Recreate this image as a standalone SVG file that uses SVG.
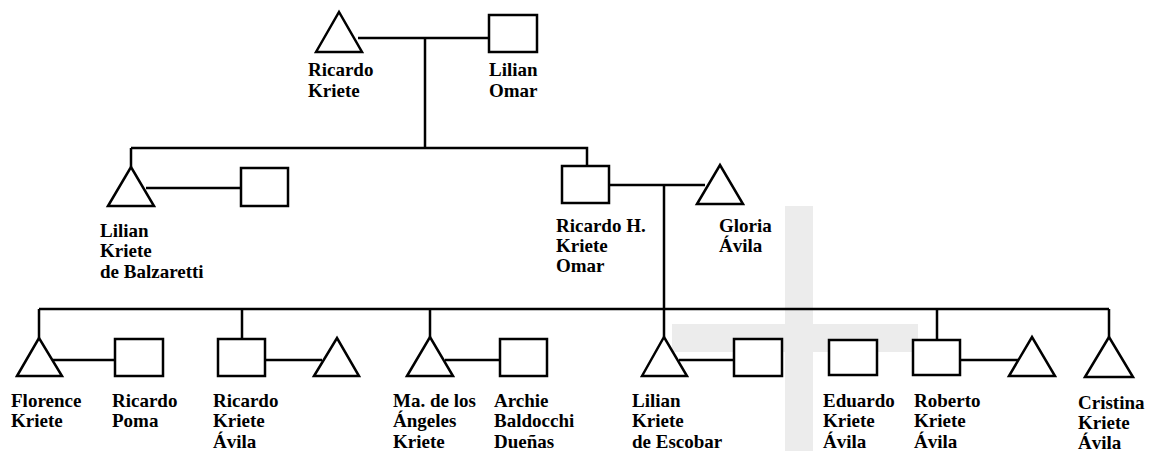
<svg xmlns="http://www.w3.org/2000/svg" width="1149" height="451" viewBox="0 0 1149 451">
<style>
.wm{fill:#ececec;stroke:none}
.sym{fill:#fff;stroke:#000;stroke-width:2.5;stroke-linejoin:miter}
.ln{fill:none;stroke:#000;stroke-width:2.5}
text{font-family:"Liberation Serif","Times New Roman",serif;font-size:19px;font-weight:bold;fill:#000}
</style>
<g id="watermark">
<rect class="wm" x="785" y="206" width="28" height="245"/>
<rect class="wm" x="672" y="324" width="246" height="28"/>
</g>
<g id="connectors">
<path class="ln" d="M358,38H489M425,38V148"/>
<path class="ln" d="M131,148H587V166M131,148V167"/>
<path class="ln" d="M146,188H241"/>
<path class="ln" d="M609,185H705M664,185V309"/>
<path class="ln" d="M39,309H1109M39,309V338M242,309V339M430,309V337M664,309V337M937,309V340M1109,309V337"/>
<path class="ln" d="M53,360H115M265,360H322M445,360H500M679,360H734M960,360H1018"/>
</g>
<g id="ricardo-kriete"><polygon class="sym" points="316,52 339,12 362,52"/><text x="308" y="76">Ricardo</text><text x="308" y="97">Kriete</text></g>
<g id="lilian-omar"><rect class="sym" x="489" y="15" width="48" height="37"/><text x="489" y="76">Lilian</text><text x="489" y="97">Omar</text></g>
<g id="lilian-kriete-balzaretti"><polygon class="sym" points="108,206 131,167 154,206"/><text x="100" y="237">Lilian</text><text x="100" y="257">Kriete</text><text x="100" y="278">de Balzaretti</text></g>
<g id="balzaretti-spouse"><rect class="sym" x="241" y="168" width="47" height="38"/></g>
<g id="ricardo-h-kriete-omar"><rect class="sym" x="562" y="166" width="47" height="37"/><text x="556" y="232">Ricardo H.</text><text x="556" y="252">Kriete</text><text x="556" y="272">Omar</text></g>
<g id="gloria-avila"><polygon class="sym" points="697,204 720,165 743,204"/><text x="719" y="232">Gloria</text><text x="719" y="252">Ávila</text></g>
<g id="florence-kriete"><polygon class="sym" points="17,376 39,338 62,376"/><text x="11" y="407">Florence</text><text x="11" y="427">Kriete</text></g>
<g id="ricardo-poma"><rect class="sym" x="115" y="339" width="48" height="37"/><text x="112" y="407">Ricardo</text><text x="112" y="427">Poma</text></g>
<g id="ricardo-kriete-avila"><rect class="sym" x="218" y="339" width="47" height="37"/><text x="213" y="407">Ricardo</text><text x="213" y="427">Kriete</text><text x="213" y="448">Ávila</text></g>
<g id="ricardo-kriete-avila-spouse"><polygon class="sym" points="314,376 337,338 359,376"/></g>
<g id="ma-angeles-kriete"><polygon class="sym" points="407,376 430,337 453,376"/><text x="393" y="407">Ma. de los</text><text x="393" y="427">Ángeles</text><text x="393" y="448">Kriete</text></g>
<g id="archie-baldocchi"><rect class="sym" x="500" y="339" width="47" height="37"/><text x="494" y="407">Archie</text><text x="494" y="427">Baldocchi</text><text x="494" y="448">Dueñas</text></g>
<g id="lilian-kriete-escobar"><polygon class="sym" points="642,376 664,337 687,376"/><text x="632" y="407">Lilian</text><text x="632" y="427">Kriete</text><text x="632" y="448">de Escobar</text></g>
<g id="escobar-spouse"><rect class="sym" x="734" y="339" width="48" height="37"/></g>
<g id="eduardo-kriete-avila"><rect class="sym" x="829" y="340" width="48" height="35"/><text x="823" y="407">Eduardo</text><text x="823" y="427">Kriete</text><text x="823" y="448">Ávila</text></g>
<g id="roberto-kriete-avila"><rect class="sym" x="913" y="340" width="47" height="35"/><text x="914" y="407">Roberto</text><text x="914" y="427">Kriete</text><text x="914" y="448">Ávila</text></g>
<g id="roberto-spouse"><polygon class="sym" points="1009,376 1032,337 1055,376"/></g>
<g id="cristina-kriete-avila"><polygon class="sym" points="1085,377 1109,337 1133,377"/><text x="1078" y="409">Cristina</text><text x="1078" y="429">Kriete</text><text x="1078" y="449">Ávila</text></g>
</svg>
